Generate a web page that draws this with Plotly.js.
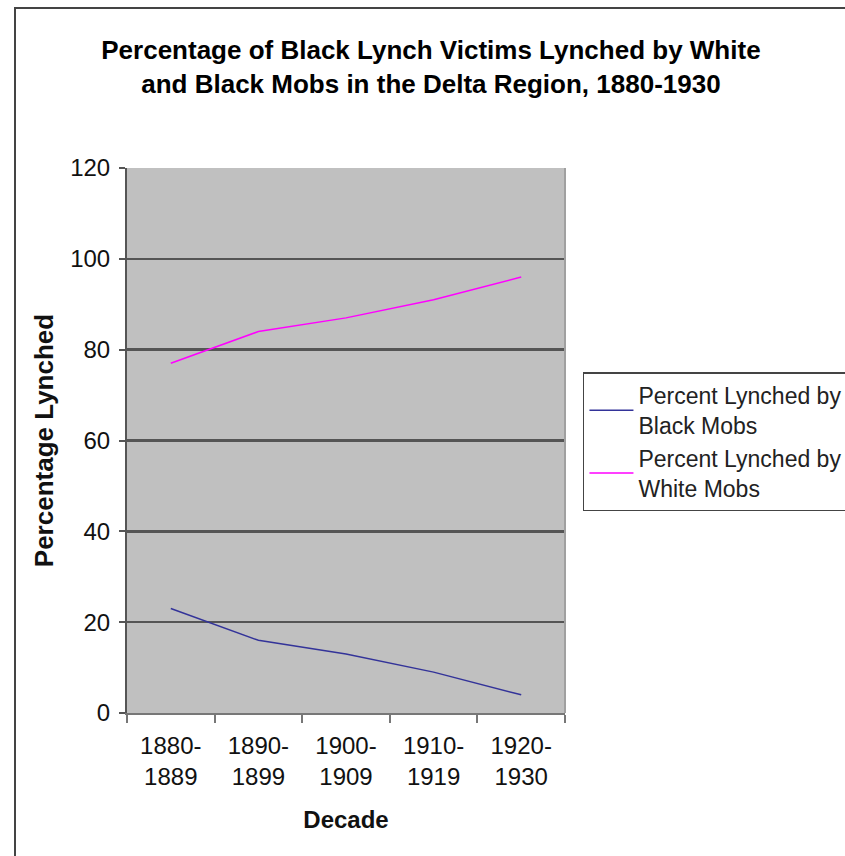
<!DOCTYPE html>
<html>
<head>
<meta charset="utf-8">
<script src="https://cdn.plot.ly/plotly-3.0.1.min.js"></script>
<style>
html,body{margin:0;padding:0;background:#fff;}
#chart{width:845px;height:856px;}
</style>
</head>
<body>
<div id="chart"></div>
<script>
const decades = ["1880-<br>1889", "1890-<br>1899", "1900-<br>1909", "1910-<br>1919", "1920-<br>1930"];
const blackMobs = [23, 16, 13, 9, 4];
const whiteMobs = [77, 84, 87, 91, 96];
const yTicks = [0, 20, 40, 60, 80, 100, 120];

const FONT = "Liberation Sans, Arial, sans-serif";

const traces = [
  {
    x: decades, y: blackMobs, type: "scatter", mode: "lines",
    name: "Percent Lynched by<br>Black Mobs",
    line: {color: "#333399", width: 1.5}
  },
  {
    x: decades, y: whiteMobs, type: "scatter", mode: "lines",
    name: "Percent Lynched by<br>White Mobs",
    line: {color: "#ff00ff", width: 1.5}
  }
];

const layout = {
  width: 845, height: 856,
  margin: {l: 127, r: 280, t: 168, b: 143, autoexpand: false},
  paper_bgcolor: "#ffffff",
  plot_bgcolor: "#c0c0c0",
  font: {family: FONT, color: "#111", size: 24},
  title: {
    text: "<b>Percentage of Black Lynch Victims Lynched by White<br>and Black Mobs in the Delta Region, 1880-1930</b>",
    font: {family: FONT, size: 26, color: "#000"},
    x: 0.51, xanchor: "center", xref: "container",
    y: 0.931, yanchor: "top", yref: "container"
  },
  xaxis: {
    type: "category",
    tickmode: "array", tickvals: decades, ticktext: decades,
    tickson: "boundaries",
    ticks: "outside", ticklen: 8, tickwidth: 2, tickcolor: "#777",
    showline: true, linecolor: "#777", linewidth: 2,
    showgrid: false, zeroline: false,
    tickfont: {family: FONT, size: 24, color: "#111"},
    ticklabelstandoff: 10,
    range: [-0.5, 4.5],
    title: {text: "<b>Decade</b>", font: {family: FONT, size: 24, color: "#111"}, standoff: 22}
  },
  yaxis: {
    range: [0, 120],
    tickmode: "array", tickvals: yTicks,
    ticks: "outside", ticklen: 6, tickwidth: 2, tickcolor: "#555",
    showline: true, linecolor: "#555", linewidth: 2,
    showgrid: true, gridcolor: "#555", gridwidth: 2.5,
    zeroline: false,
    tickfont: {family: FONT, size: 24, color: "#111"},
    ticklabelstandoff: 4,
    title: {text: "<b>Percentage Lynched</b>", font: {family: FONT, size: 26, color: "#111"}, standoff: 9}
  },
  showlegend: true,
  legend: {
    x: 1.041, xanchor: "left", y: 0.625, yanchor: "top",
    bgcolor: "#ffffff", bordercolor: "#444", borderwidth: 1.5,
    font: {family: FONT, size: 23, color: "#222"},
    itemwidth: 44,
    tracegroupgap: 6
  },
  shapes: [
    {type: "rect", xref: "paper", yref: "paper",
     x0: (15 - 127) / 438, x1: 1.8, y0: -0.5, y1: (713 - 8) / 545,
     line: {color: "#444", width: 2}, fillcolor: "rgba(0,0,0,0)", layer: "below"},
    {type: "line", xref: "paper", yref: "paper", x0: 1, x1: 1, y0: 0, y1: 1,
     line: {color: "#a0a0a0", width: 2}}
  ]
};

Plotly.newPlot("chart", traces, layout, {displayModeBar: false, staticPlot: true});
</script>
</body>
</html>
